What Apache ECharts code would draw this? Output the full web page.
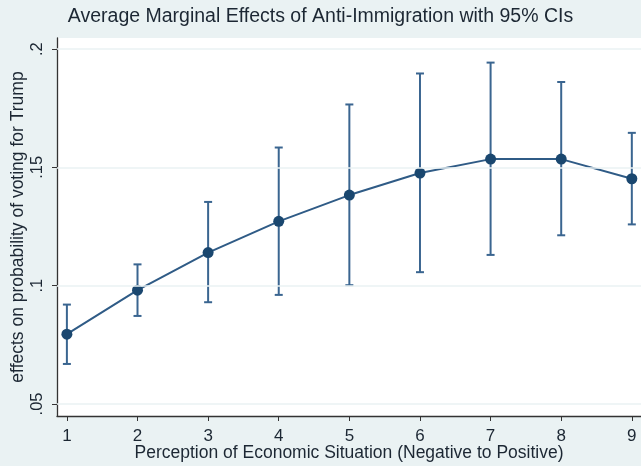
<!DOCTYPE html>
<html>
<head>
<meta charset="utf-8">
<script src="https://cdn.jsdelivr.net/npm/echarts@6/dist/echarts.min.js"></script>
<style>
html,body{margin:0;padding:0;background:#eaf2f3;}
#c{width:641px;height:466px;}
</style>
</head>
<body>
<div id="c"></div>
<script>
var categories = [1, 2, 3, 4, 5, 6, 7, 8, 9];
var estimates = [0.0795, 0.0981, 0.1140, 0.1272, 0.1383, 0.1476, 0.1535, 0.1535, 0.1452];
var ciLower = [0.0669, 0.0872, 0.0930, 0.0961, 0.1002, 0.1057, 0.1130, 0.1213, 0.1259];
var ciUpper = [0.0920, 0.1090, 0.1354, 0.1584, 0.1766, 0.1897, 0.1943, 0.1861, 0.1646];
var yTicks = [0.05, 0.1, 0.15, 0.2];
var yTickLabels = ['.05', '.1', '.15', '.2'];

var chart = echarts.init(document.getElementById('c'));
var font = 'Liberation Sans, Arial, sans-serif';
var pointData = categories.map(function (c, i) { return [c, estimates[i]]; });
var ciData = categories.map(function (c, i) { return [c, ciLower[i], ciUpper[i]]; });

chart.setOption({
  backgroundColor: '#eaf2f3',
  animation: false,
  title: {
    text: 'Average Marginal Effects of Anti-Immigration with 95% CIs',
    left: 'center', top: 2,
    textStyle: { fontFamily: font, fontSize: 19.5, fontWeight: 'normal', color: '#1c2733' }
  },
  grid: { left: 57, right: 0, top: 38, bottom: 50, backgroundColor: '#ffffff', show: true, borderWidth: 0,
          containLabel: false, outerBoundsMode: 'none' },
  xAxis: {
    type: 'value', min: 0.86, max: 9.13,
    name: 'Perception of Economic Situation (Negative to Positive)',
    nameLocation: 'middle', nameGap: 28, nameMoveOverlap: false,
    nameTextStyle: { fontFamily: font, fontSize: 17.5, color: '#1c2733' },
    axisLine: { show: true, lineStyle: { color: '#333', width: 1.3 } },
    axisTick: { show: true, length: 5, customValues: categories, lineStyle: { color: '#333' } },
    axisLabel: { customValues: categories, fontFamily: font, fontSize: 17, color: '#1c2733', margin: 12 },
    splitLine: { show: false }
  },
  yAxis: {
    type: 'value', min: 0.0449, max: 0.2047,
    name: 'effects on probability of voting for Trump',
    nameLocation: 'middle', nameRotate: 90, nameGap: 30, nameMoveOverlap: false,
    nameTextStyle: { fontFamily: font, fontSize: 17.5, color: '#1c2733' },
    axisLine: { show: true, lineStyle: { color: '#333', width: 1.3 } },
    axisTick: { show: true, length: 5, customValues: yTicks, lineStyle: { color: '#333' } },
    axisLabel: {
      customValues: yTicks, rotate: 90, fontFamily: font, fontSize: 16.5, color: '#1c2733', margin: 11,
      formatter: function (v) {
        for (var i = 0; i < yTicks.length; i++) { if (Math.abs(yTicks[i] - v) < 1e-9) return yTickLabels[i]; }
        return '';
      }
    },
    splitLine: { show: false }
  },
  series: [
    {
      type: 'line', data: [], silent: true,
      markLine: {
        silent: true, symbol: 'none', label: { show: false },
        lineStyle: { color: '#eaf2f3', width: 1.5, type: 'solid' },
        data: yTicks.map(function (v) { return { yAxis: v }; })
      }
    },
    {
      type: 'custom', data: ciData, z: 3,
      renderItem: function (params, api) {
        var x = api.value(0);
        var lo = api.coord([x, api.value(1)]);
        var hi = api.coord([x, api.value(2)]);
        var hw = 4;
        var st = { stroke: '#3a6590', lineWidth: 2 };
        return {
          type: 'group', children: [
            { type: 'line', shape: { x1: lo[0], y1: lo[1], x2: hi[0], y2: hi[1] }, style: st },
            { type: 'line', shape: { x1: lo[0] - hw, y1: lo[1], x2: lo[0] + hw, y2: lo[1] }, style: st },
            { type: 'line', shape: { x1: hi[0] - hw, y1: hi[1], x2: hi[0] + hw, y2: hi[1] }, style: st }
          ]
        };
      }
    },
    {
      type: 'line', data: pointData, z: 4,
      symbol: 'circle', symbolSize: 11,
      lineStyle: { color: '#2f5b86', width: 2 },
      itemStyle: { color: '#1a476f' }
    }
  ]
});
</script>
</body>
</html>
